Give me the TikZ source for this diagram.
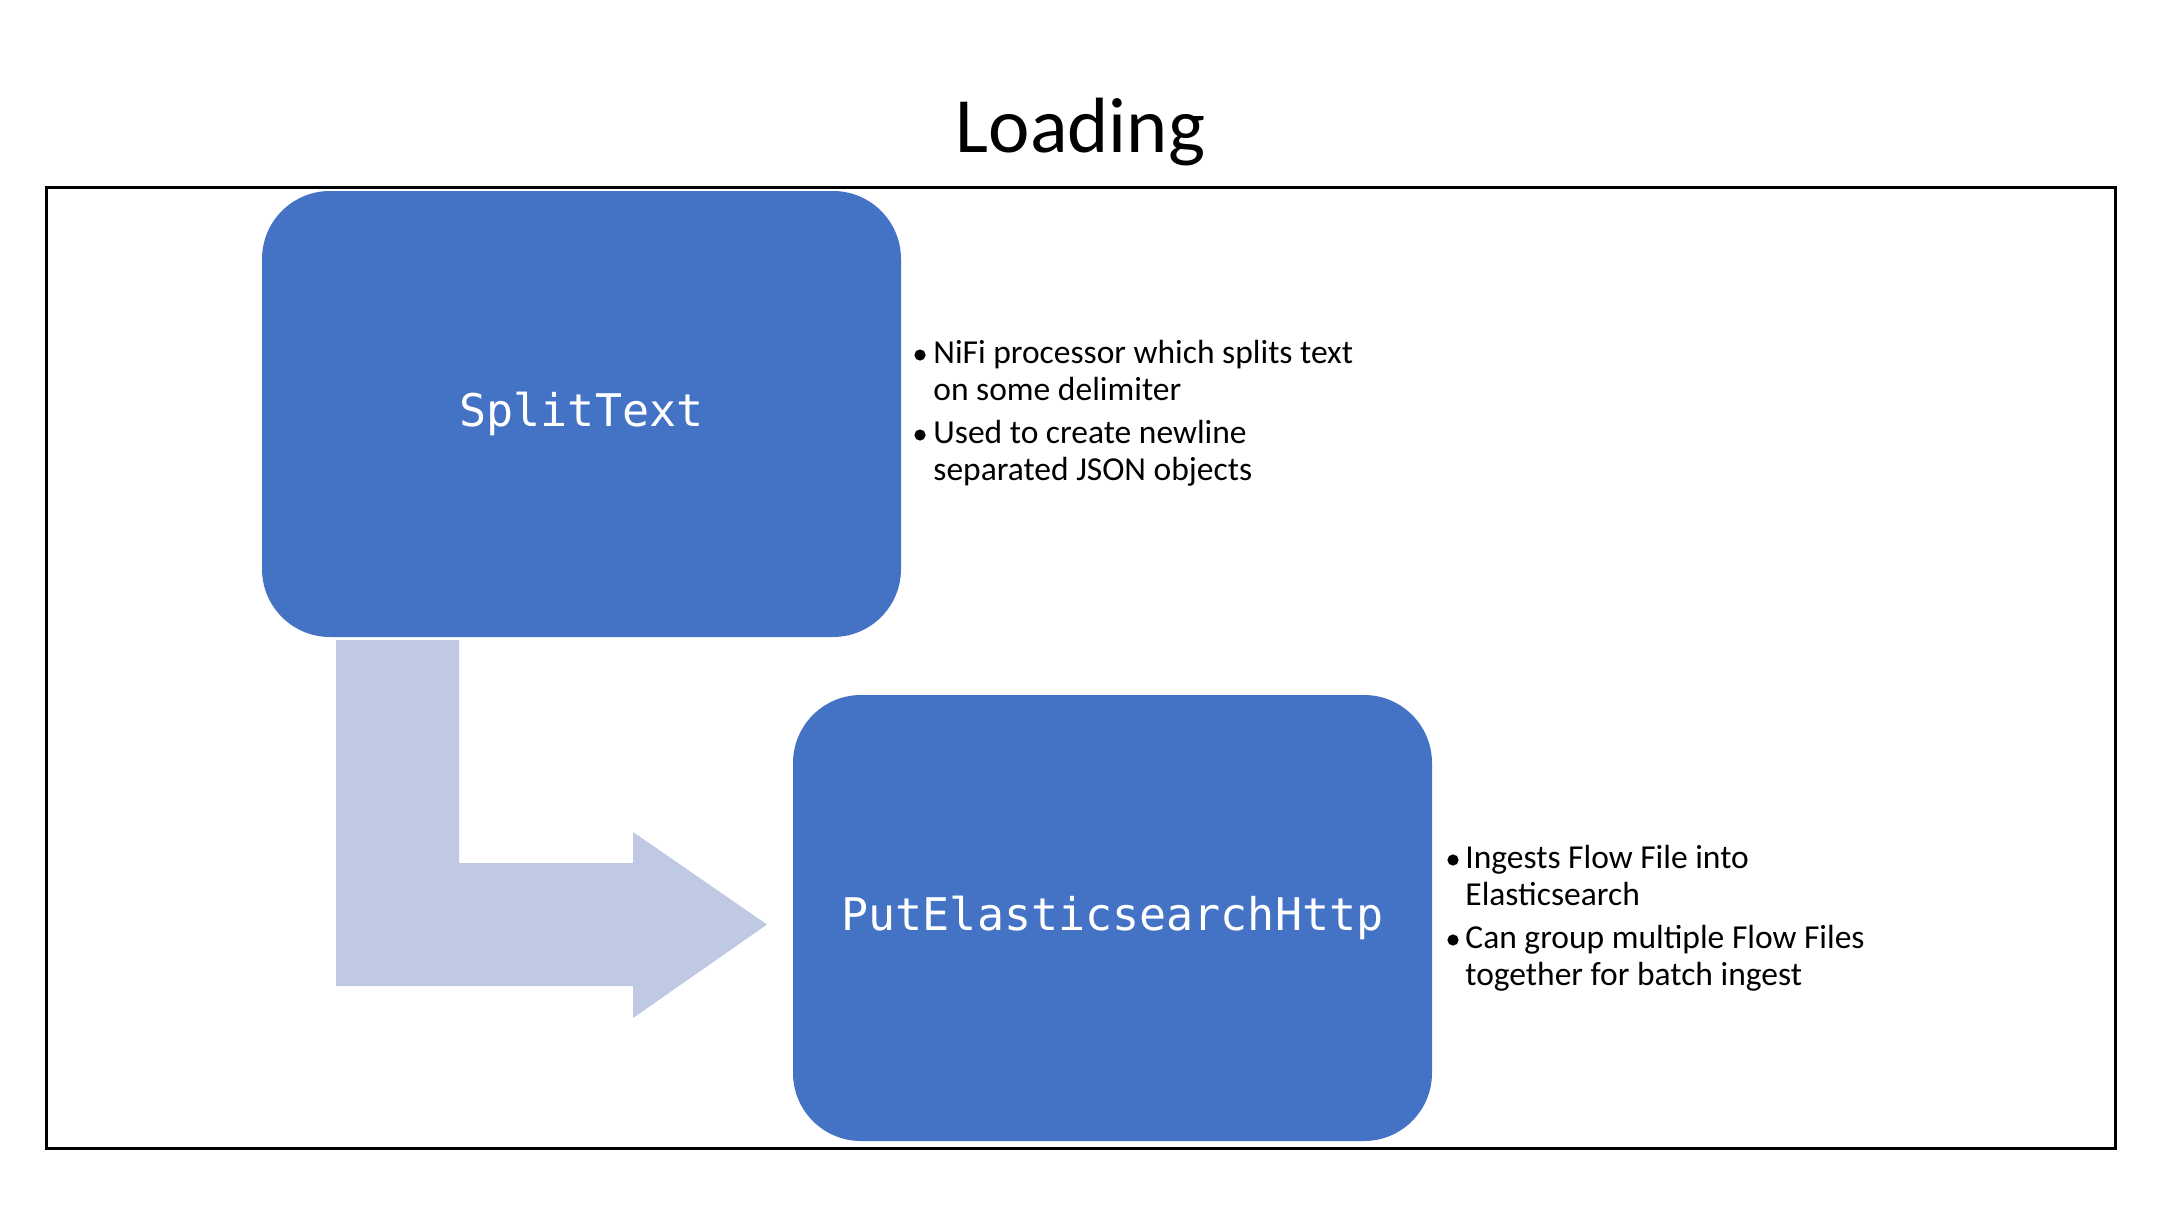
\documentclass[tikz,border=0pt]{standalone}
\usepackage{fontspec}
\setmainfont{Carlito}
\newfontfamily\boxmono{DejaVu Sans Mono}
\definecolor{boxblue}{HTML}{4472C4}
\definecolor{arrowblue}{HTML}{BFC9E4}
\begin{document}
\begin{tikzpicture}[x=0.5pt,y=-0.5pt,
  blockbox/.style={rectangle, rounded corners=34pt, fill=boxblue, minimum width=319.5pt, minimum height=223pt, inner sep=0pt, text=white, font=\boxmono\fontsize{22.5}{27}\selectfont, text height=12pt, text depth=0pt},
  bodytext/.style={anchor=base west, inner sep=0pt, font=\fontsize{16.75}{20}\selectfont},
  bulletdot/.style={circle, fill=black, inner sep=0pt, minimum size=5.6pt},
  titletext/.style={anchor=base, inner sep=0pt, font=\fontsize{39.2}{46}\selectfont},
  frameline/.style={draw=black, line width=1.5pt}]
\fill[white] (0,0) rectangle (2160,1215);
\useasboundingbox (0,0) rectangle (2160,1215);
% title
\node[titletext] (title) at (1080.5,152.7) {Loading};
% frame
\draw[frameline] (46,187) rectangle (2115,1148);
% bent block arrow
\fill[arrowblue] (336,640) -- (459,640) -- (459,863) -- (633,863) -- (633,832) -- (767,924.5) -- (633,1018) -- (633,986) -- (336,986) -- cycle;
% boxes
\node[blockbox] (split) at (581.5,414) {SplitText};
\node[blockbox] (put) at (1112.5,918) {PutElasticsearchHttp};
% bullets block 1
\node[bulletdot] (d1) at (920,355) {};
\node[bodytext] (t1a) at (933,363) {NiFi processor which splits text};
\node[bodytext] (t1b) at (933,400) {on some delimiter};
\node[bulletdot] (d2) at (920,435) {};
\node[bodytext] (t2a) at (933,443) {Used to create newline};
\node[bodytext] (t2b) at (933,480) {separated JSON objects};
% bullets block 2
\node[bulletdot] (d3) at (1453,860) {};
\node[bodytext] (t3a) at (1465,868) {Ingests Flow File into};
\node[bodytext] (t3b) at (1465,905) {Elasticsearch};
\node[bulletdot] (d4) at (1453,940) {};
\node[bodytext] (t4a) at (1465,948) {Can group multiple Flow Files};
\node[bodytext] (t4b) at (1465,985) {together for batch ingest};
\end{tikzpicture}
\end{document}
